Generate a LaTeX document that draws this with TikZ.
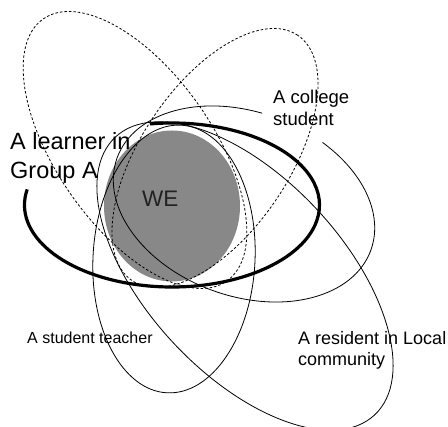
\documentclass[tikz,border=0pt]{standalone}
\usepackage{fontspec}
\setmainfont{Liberation Sans}
\definecolor{wegray}{RGB}{136,136,136}
\definecolor{wetext}{RGB}{34,34,34}
\begin{document}
\begin{tikzpicture}[x=1pt,y=1pt,
  thinline/.style={line width=0.8pt, draw=black},
  dashline/.style={line width=0.8pt, draw=black, dash pattern=on 2.5pt off 2pt},
  thickline/.style={line width=3.2pt, draw=black},
  lbl/.style={anchor=base west, inner sep=0pt, text=black}]
\useasboundingbox (0,0) rectangle (448,427);
% WE disc
\fill[wegray] (172,221) ellipse [x radius=68, y radius=75.5];
% dashed ellipses
\draw[dashline, rotate around={-55:(135,277)}] (135,277) ellipse [x radius=160, y radius=78];
\draw[dashline, rotate around={56:(215,269)}] (215,269) ellipse [x radius=148, y radius=74];
% college student ellipse (open where its label sits)
\draw[thinline, rotate around={-20:(244,223)}] (244,223) ++(96:135 and 92)
  arc[start angle=96, end angle=427, x radius=135, y radius=92];
% student teacher ellipse
\draw[thinline, rotate around={-3:(174,168)}] (174,168) ellipse [x radius=81, y radius=134];
% resident ellipse
\draw[thinline, rotate around={-47:(245,151)}] (245,151) ellipse [x radius=190, y radius=98];
% learner ellipse (thick, open at upper left)
\draw[thickline] (172,222) ++(169:147.5 and 82)
  arc[start angle=169, end angle=458.6, x radius=147.5, y radius=82];
% labels
\node[lbl, text=wetext, font=\fontsize{22.5}{27}\selectfont] (we) at (142,220) {WE};
\node[lbl, font=\fontsize{23.5}{29}\selectfont] (learner1) at (10,277) {A learner in};
\node[lbl, font=\fontsize{23.5}{29}\selectfont] (learner2) at (10,248) {Group A};
\node[lbl, font=\fontsize{18.5}{22}\selectfont] (college1) at (273,323) {A college};
\node[lbl, font=\fontsize{18.5}{22}\selectfont] (college2) at (273,301) {student};
\node[lbl, font=\fontsize{16}{19}\selectfont] (teacher) at (27,83) {A student teacher};
\node[lbl, font=\fontsize{18}{21}\selectfont] (resident1) at (298,82) {A resident in Local};
\node[lbl, font=\fontsize{18}{21}\selectfont] (resident2) at (298,61) {community};
\end{tikzpicture}
\end{document}
